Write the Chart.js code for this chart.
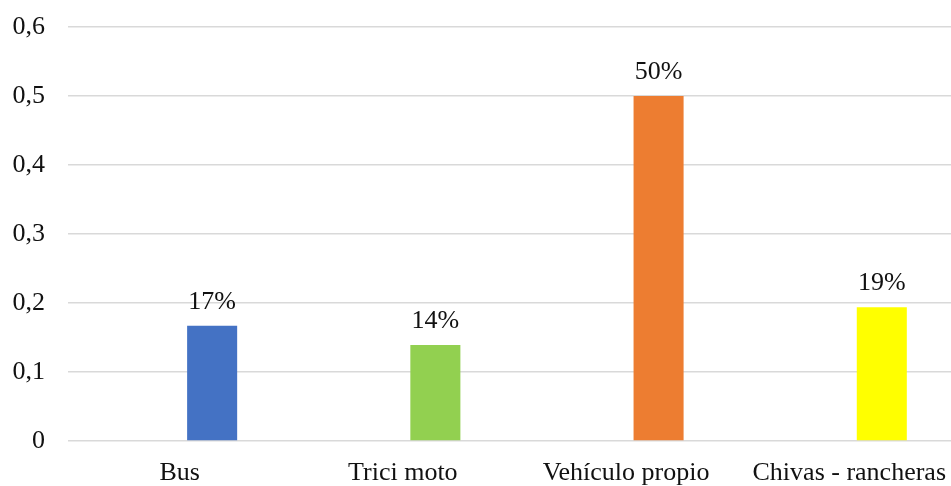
<!DOCTYPE html>
<html lang="es">
<head>
<meta charset="utf-8">
<title>Medio de transporte</title>
<script src="https://cdn.jsdelivr.net/npm/chart.js@4.4.0/dist/chart.umd.min.js"></script>
<style>
  html, body { margin: 0; padding: 0; background: #fff; overflow: hidden; width: 951px; height: 486px; }
  #wrap { width: 963px; height: 486px; }
</style>
</head>
<body>
<div id="wrap"><canvas id="transportChart" width="963" height="486"></canvas></div>
<script>
// Data
const categories = ['Bus', 'Trici moto', 'Vehículo propio', 'Chivas - rancheras'];
const shares = [0.167, 0.139, 0.5, 0.194];
const barColors = ['#4472C4', '#92D050', '#ED7D31', '#FFFF00'];
const yTicks = { min: 0, max: 0.6, step: 0.1 };

const FONT = 'Liberation Serif, Times New Roman, serif';

// Writes the percentage above every bar of the real series
const valueLabels = {
  id: 'valueLabels',
  afterDatasetsDraw(chart) {
    const ctx = chart.ctx;
    const meta = chart.getDatasetMeta(1);
    ctx.save();
    ctx.font = '26px ' + FONT;
    ctx.fillStyle = '#111';
    ctx.textAlign = 'center';
    ctx.textBaseline = 'alphabetic';
    meta.data.forEach((bar, i) => {
      ctx.fillText(Math.round(shares[i] * 100) + '%', bar.x, bar.y - 17);
    });
    ctx.restore();
  }
};

const ctx = document.getElementById('transportChart');

new Chart(ctx, {
  type: 'bar',
  data: {
    labels: categories,
    datasets: [
      {
        // empty slot so the bar sits right of the category centre, as in Excel
        label: '',
        data: categories.map(() => null),
        backgroundColor: 'rgba(0,0,0,0)'
      },
      {
        label: 'Serie 1',
        data: shares,
        backgroundColor: barColors
      }
    ]
  },
  options: {
    responsive: false,
    animation: false,
    datasets: {
      bar: { categoryPercentage: 0.583, barPercentage: 0.769 }
    },
    layout: { padding: { top: 27, left: 0, right: 0, bottom: 0 } },
    plugins: {
      legend: { display: false },
      tooltip: { enabled: false }
    },
    scales: {
      x: {
        offset: true,
        grid: { display: false, drawTicks: false },
        border: { display: false },
        ticks: {
          color: '#111',
          font: { family: FONT, size: 26 },
          padding: 17,
          maxRotation: 0,
          autoSkip: false
        },
        afterFit(scale) { scale.height = 45; }
      },
      y: {
        min: yTicks.min,
        max: yTicks.max,
        grid: { color: '#d9d9d9', lineWidth: 1.5, drawTicks: false },
        border: { display: false },
        ticks: {
          stepSize: yTicks.step,
          color: '#111',
          font: { family: FONT, size: 26 },
          padding: 23,
          callback: v => v === 0 ? '0' : v.toFixed(1).replace('.', ',')
        },
        afterFit(scale) {
          scale.width = 68;
          // let the layout padding alone decide where the plot starts
          scale.paddingTop = 0;
          scale.paddingBottom = 0;
        }
      }
    }
  },
  plugins: [valueLabels]
});
</script>
</body>
</html>
